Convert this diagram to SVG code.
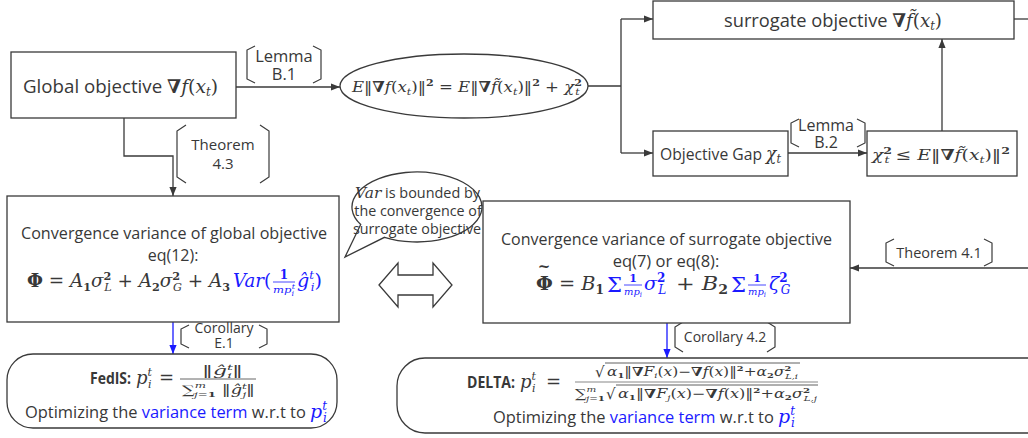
<svg xmlns="http://www.w3.org/2000/svg" width="1028" height="438" viewBox="0 0 1028 438">
<style>
.box{fill:#fff;stroke:#3a3a3a;stroke-width:1.3}
.ln{fill:none;stroke:#3a3a3a;stroke-width:1.3}
.bln{fill:none;stroke:#1a1aff;stroke-width:1.3}
.br{fill:none;stroke:#3a3a3a;stroke-width:1.2}
.t{font-family:"Open Sans","Noto Sans",sans-serif;fill:#383838}
.m{font-family:"DejaVu Serif","Liberation Serif",serif;fill:#383838}
.i{font-style:italic}
.b{font-weight:bold}
.n{font-style:normal}
.bl{fill:#1a1aff}
</style>
<defs>
<marker id="ah" viewBox="0 0 10 10" refX="10" refY="5" markerWidth="9" markerHeight="9" markerUnits="userSpaceOnUse" orient="auto"><path d="M0 1 L10 5 L0 9 Z" fill="#3a3a3a"/></marker>
<marker id="ahb" viewBox="0 0 10 10" refX="10" refY="5" markerWidth="9" markerHeight="9" markerUnits="userSpaceOnUse" orient="auto"><path d="M0 1 L10 5 L0 9 Z" fill="#1a1aff"/></marker>
</defs>
<rect width="1028" height="438" fill="#fff"/>

<g id="connectors">
<path class="ln" d="M236 87 H340" marker-end="url(#ah)"/>
<path class="ln" d="M588 86 H621 M621 19 V153"/>
<path class="ln" d="M621 19 H653" marker-end="url(#ah)"/>
<path class="ln" d="M621 153 H653" marker-end="url(#ah)"/>
<path class="ln" d="M788 153 H867" marker-end="url(#ah)"/>
<path class="ln" d="M942 131 V39" marker-end="url(#ah)"/>
<path class="ln" d="M1014 19 H1028"/>
<path class="ln" d="M124 118 V156 H173 V196" marker-end="url(#ah)"/>
<path class="ln" d="M1028 268 H850" marker-end="url(#ah)"/>
<path class="bln" d="M173 322 V354" marker-end="url(#ahb)"/>
<path class="bln" d="M667 323 V358" marker-end="url(#ahb)"/>
</g>

<g id="labels">
<g id="lemmaB1">
<path class="br" d="M255 46 L247 50 V79 L255 83 M313 46 L321 50 V79 L313 83"/>
<text class="t" x="284" y="62" text-anchor="middle" font-size="16.5">Lemma</text>
<text class="t" x="284" y="80" text-anchor="middle" font-size="16.5">B.1</text>
</g>
<g id="theorem43">
<path class="br" d="M186 125 L177 131 V177 L186 183 M260 125 L269 131 V177 L260 183"/>
<text class="t" x="223" y="150" text-anchor="middle" font-size="15">Theorem</text>
<text class="t" x="223" y="169" text-anchor="middle" font-size="15">4.3</text>
</g>
<g id="lemmaB2">
<path class="br" d="M799 119 L791 123 V143 L799 147 M857 119 L865 123 V143 L857 147"/>
<text class="t" x="826" y="131" text-anchor="middle" font-size="16">Lemma</text>
<text class="t" x="826" y="148" text-anchor="middle" font-size="16">B.2</text>
</g>
<g id="theorem41">
<path class="br" d="M894 239 L886 243 V262 L894 266 M984 239 L992 243 V262 L984 266"/>
<text class="t" x="939" y="258" text-anchor="middle" font-size="14.5">Theorem 4.1</text>
</g>
<g id="corE1">
<path class="br" d="M189 325 L181 329 V344 L189 348 M259 325 L267 329 V344 L259 348"/>
<text class="t" x="224" y="333" text-anchor="middle" font-size="14">Corollary</text>
<text class="t" x="224" y="348" text-anchor="middle" font-size="14">E.1</text>
</g>
<g id="cor42">
<path class="br" d="M683 322 L675 327 V347 L683 352 M767 322 L775 327 V347 L767 352"/>
<text class="t" x="725" y="342" text-anchor="middle" font-size="14">Corollary 4.2</text>
</g>
</g>

<g id="global">
<rect class="box" x="11" y="52" width="225" height="66"/>
<text class="t" x="23" y="93" font-size="19" textLength="195" lengthAdjust="spacingAndGlyphs">Global objective <tspan class="m b" font-size="19">∇</tspan><tspan class="m i" font-size="19">f</tspan><tspan class="m" font-size="19">(</tspan><tspan class="m i" font-size="19">x</tspan><tspan class="m i" font-size="12" dy="3">t</tspan><tspan class="m" font-size="19" dy="-3">)</tspan></text>
</g>

<g id="identity">
<ellipse class="box" cx="464" cy="86" rx="124" ry="32"/>
<text class="m" x="352" y="92" font-size="15" textLength="230" lengthAdjust="spacingAndGlyphs"><tspan class="i">E</tspan>‖<tspan class="b">∇</tspan><tspan class="i">f</tspan>(<tspan class="i">x</tspan><tspan class="i" font-size="10" dy="3">t</tspan><tspan dy="-3">)‖</tspan><tspan class="b" font-size="10" dy="-6">2</tspan><tspan dy="6"> = </tspan><tspan class="i">E</tspan>‖<tspan class="b">∇</tspan><tspan class="i">f̃</tspan>(<tspan class="i">x</tspan><tspan class="i" font-size="10" dy="3">t</tspan><tspan dy="-3">)‖</tspan><tspan class="b" font-size="10" dy="-6">2</tspan><tspan dy="6"> + </tspan><tspan class="i">χ</tspan><tspan class="b" font-size="10" dy="-6">2</tspan><tspan class="i" font-size="10" dx="-6" dy="9">t</tspan></text>
</g>

<g id="surrogate">
<rect class="box" x="653" y="1" width="361" height="38"/>
<text class="t" x="724" y="27" font-size="19" textLength="218" lengthAdjust="spacingAndGlyphs">surrogate objective <tspan class="m b" font-size="19">∇</tspan><tspan class="m i" font-size="19">f̃</tspan><tspan class="m" font-size="19">(</tspan><tspan class="m i" font-size="19">x</tspan><tspan class="m i" font-size="12" dy="3">t</tspan><tspan class="m" font-size="19" dy="-3">)</tspan></text>
</g>

<g id="gap">
<rect class="box" x="653" y="131" width="135" height="45"/>
<text class="t" x="660" y="160" font-size="16.5" textLength="121" lengthAdjust="spacingAndGlyphs">Objective Gap <tspan class="m i" font-size="18">χ</tspan><tspan class="m i" font-size="12" dy="3">t</tspan></text>
</g>

<g id="chibound">
<rect class="box" x="867" y="131" width="150" height="45"/>
<text class="m" x="872" y="160" font-size="15" textLength="138" lengthAdjust="spacingAndGlyphs"><tspan class="i">χ</tspan><tspan class="b" font-size="10" dy="-6">2</tspan><tspan class="i" font-size="10" dx="-6" dy="9">t</tspan><tspan dy="-3"> ≤ </tspan><tspan class="i">E</tspan>‖<tspan class="b">∇</tspan><tspan class="i">f̃</tspan>(<tspan class="i">x</tspan><tspan class="i" font-size="10" dy="3">t</tspan><tspan dy="-3">)‖</tspan><tspan class="b" font-size="10" dy="-6">2</tspan></text>
</g>

<g id="globalvar">
<rect class="box" x="7" y="196" width="332" height="126"/>
<text class="t" x="21" y="239" font-size="16" textLength="306" lengthAdjust="spacingAndGlyphs">Convergence variance of global objective</text>
<text class="t" x="173" y="261" text-anchor="middle" font-size="16">eq(12):</text>
<text class="m" x="27" y="287" font-size="18" textLength="203" lengthAdjust="spacingAndGlyphs"><tspan class="b">Φ</tspan> = <tspan class="i">A</tspan><tspan class="b" font-size="11" dy="4">1</tspan><tspan class="i" dy="-4">σ</tspan><tspan class="b" font-size="11" dy="-7">2</tspan><tspan class="i" font-size="11" dx="-7" dy="11">L</tspan><tspan dy="-4"> + </tspan><tspan class="i">A</tspan><tspan class="b" font-size="11" dy="4">2</tspan><tspan class="i" dy="-4">σ</tspan><tspan class="b" font-size="11" dy="-7">2</tspan><tspan class="i" font-size="11" dx="-7" dy="11">G</tspan><tspan dy="-4"> + </tspan><tspan class="i">A</tspan><tspan class="b" font-size="11" dy="4">3</tspan></text>
<text class="m bl" x="233" y="287" font-size="18" textLength="38" lengthAdjust="spacingAndGlyphs"><tspan class="i">Var</tspan>(</text>
<text class="m bl b" x="284" y="279" text-anchor="middle" font-size="12">1</text>
<line x1="273" y1="282" x2="295" y2="282" stroke="#1a1aff" stroke-width="0.8"/>
<text class="m bl i" x="273" y="293" font-size="10" textLength="22" lengthAdjust="spacingAndGlyphs">mp<tspan font-size="7" dy="3">i</tspan><tspan font-size="7" dx="-2" dy="-7">t</tspan></text>
<text class="m bl" x="297" y="287" font-size="18" textLength="25" lengthAdjust="spacingAndGlyphs"><tspan class="i">ĝ</tspan><tspan class="i" font-size="11" dy="-8">t</tspan><tspan class="i" font-size="11" dx="-3" dy="12">i</tspan><tspan dy="-4">)</tspan></text>
</g>

<g id="bubble">
<path class="box" d="M384.5 237.3 A65 35 0 1 0 360.7 224.5 L345 257 Z"/>
<text class="t" x="355" y="198" font-size="14" textLength="125" lengthAdjust="spacingAndGlyphs"><tspan class="m i" font-size="15">Var</tspan> is bounded by</text>
<text class="t" x="418" y="216" text-anchor="middle" font-size="14.3">the convergence of</text>
<text class="t" x="417" y="234" text-anchor="middle" font-size="14.3">surrogate objective</text>
</g>

<g id="doublearrow">
<polygon class="box" points="379,285 398,263 398,275 433,275 433,263 452,285 433,307 433,295 398,295 398,307"/>
</g>

<g id="surrvar">
<rect class="box" x="483" y="201" width="367" height="122"/>
<text class="t" x="501" y="245" font-size="16.5" textLength="331" lengthAdjust="spacingAndGlyphs">Convergence variance of surrogate objective</text>
<text class="t" x="666" y="267" text-anchor="middle" font-size="16.5">eq(7) or eq(8):</text>
<text class="m b" x="544" y="271" text-anchor="middle" font-size="15">~</text>
<text class="m" x="536" y="290" font-size="19" textLength="68" lengthAdjust="spacingAndGlyphs"><tspan class="b">Φ</tspan> = <tspan class="i">B</tspan><tspan class="b" font-size="12" dy="4">1</tspan></text>
<text class="m bl" x="607" y="292" font-size="21" textLength="15" lengthAdjust="spacingAndGlyphs">Σ</text>
<text class="m bl b" x="633" y="282" text-anchor="middle" font-size="11">1</text>
<line x1="624" y1="285" x2="642" y2="285" stroke="#1a1aff" stroke-width="0.8"/>
<text class="m bl i" x="624" y="295" font-size="10" textLength="18" lengthAdjust="spacingAndGlyphs">mp<tspan font-size="7" dy="2">i</tspan></text>
<text class="m bl i" x="644" y="290" font-size="19">σ<tspan class="b n" font-size="12" dy="-8">2</tspan><tspan font-size="12" dx="-7" dy="12">L</tspan></text>
<text class="m" x="676" y="290" font-size="19" textLength="52" lengthAdjust="spacingAndGlyphs">+ <tspan class="i">B</tspan><tspan class="b" font-size="12" dy="4">2</tspan></text>
<text class="m bl" x="731" y="292" font-size="21" textLength="15" lengthAdjust="spacingAndGlyphs">Σ</text>
<text class="m bl b" x="757" y="282" text-anchor="middle" font-size="11">1</text>
<line x1="748" y1="285" x2="766" y2="285" stroke="#1a1aff" stroke-width="0.8"/>
<text class="m bl i" x="748" y="295" font-size="10" textLength="18" lengthAdjust="spacingAndGlyphs">mp<tspan font-size="7" dy="2">i</tspan></text>
<text class="m bl i" x="769" y="290" font-size="19">ζ<tspan class="b n" font-size="12" dy="-8">2</tspan><tspan font-size="12" dx="-7" dy="12">G</tspan></text>
</g>

<g id="fedis">
<rect class="box" x="7" y="354" width="330" height="74" rx="26"/>
<text class="t b" x="90" y="384" font-size="16" textLength="41" lengthAdjust="spacingAndGlyphs">FedIS:</text>
<text class="m" x="136" y="384" font-size="18"><tspan class="i">p</tspan><tspan class="i" font-size="11" dy="-8">t</tspan><tspan class="i" font-size="11" dx="-4" dy="12">i</tspan></text>
<text class="m" x="159" y="384" font-size="18">=</text>
<text class="m" x="202" y="375" font-size="12" textLength="41" lengthAdjust="spacingAndGlyphs">‖<tspan class="i">ĝ</tspan><tspan class="i" font-size="8" dy="-5">t</tspan><tspan class="i" font-size="8" dx="-3" dy="8">i</tspan><tspan dy="-3">‖</tspan></text>
<line x1="180" y1="379" x2="256" y2="379" stroke="#555" stroke-width="0.9"/>
<text class="m" x="182" y="394" font-size="12" textLength="73" lengthAdjust="spacingAndGlyphs">∑<tspan class="i" font-size="8" dy="-6">m</tspan><tspan class="i" font-size="8" dx="-8" dy="9">j</tspan><tspan font-size="8">=</tspan><tspan class="b" font-size="8">1</tspan><tspan dy="-3"> ‖</tspan><tspan class="i">ĝ</tspan><tspan class="i" font-size="8" dy="-5">t</tspan><tspan class="i" font-size="8" dx="-3" dy="8">j</tspan><tspan dy="-3">‖</tspan></text>
<text class="t" x="25" y="418" font-size="16.5" textLength="302" lengthAdjust="spacingAndGlyphs">Optimizing the <tspan class="bl">variance term</tspan> w.r.t to <tspan class="m i bl" font-size="19">p</tspan><tspan class="m i bl" font-size="12" dy="-8">t</tspan><tspan class="m i bl" font-size="12" dx="-4" dy="12">i</tspan></text>
</g>

<g id="delta">
<rect class="box" x="397" y="358" width="720" height="75" rx="28"/>
<text class="t b" x="467" y="388" font-size="16" textLength="48" lengthAdjust="spacingAndGlyphs">DELTA:</text>
<text class="m" x="520" y="388" font-size="18"><tspan class="i">p</tspan><tspan class="i" font-size="11" dy="-8">t</tspan><tspan class="i" font-size="11" dx="-4" dy="12">i</tspan></text>
<text class="m" x="546" y="388" font-size="18">=</text>
<text class="m" x="595" y="377" font-size="15">√</text>
<line x1="605" y1="363" x2="800" y2="363" stroke="#383838" stroke-width="0.8"/>
<text class="m" x="607" y="376" font-size="12.5" textLength="191" lengthAdjust="spacingAndGlyphs"><tspan class="i">α</tspan><tspan class="b" font-size="8" dy="2">1</tspan><tspan dy="-2">‖</tspan><tspan class="b">∇</tspan><tspan class="i">F</tspan><tspan class="i" font-size="8" dy="2">i</tspan><tspan dy="-2">(</tspan><tspan class="i">x</tspan>)−<tspan class="b">∇</tspan><tspan class="i">f</tspan>(<tspan class="i">x</tspan>)‖<tspan class="b" font-size="8" dy="-5">2</tspan><tspan dy="5">+</tspan><tspan class="i">α</tspan><tspan class="b" font-size="8" dy="2">2</tspan><tspan class="i" dy="-2">σ</tspan><tspan class="b" font-size="8" dy="-5">2</tspan><tspan class="i" font-size="8" dx="-5" dy="8">L,i</tspan></text>
<line x1="575" y1="382" x2="818" y2="382" stroke="#888" stroke-width="1.2"/>
<text class="m" x="575" y="398" font-size="12.5" textLength="30" lengthAdjust="spacingAndGlyphs">∑<tspan class="i" font-size="8" dy="-6">m</tspan><tspan class="i" font-size="8" dx="-8" dy="9">j</tspan><tspan font-size="8">=</tspan><tspan class="b" font-size="8">1</tspan></text>
<text class="m" x="606" y="399" font-size="15">√</text>
<line x1="616" y1="385" x2="818" y2="385" stroke="#383838" stroke-width="0.8"/>
<text class="m" x="618" y="398" font-size="12.5" textLength="199" lengthAdjust="spacingAndGlyphs"><tspan class="i">α</tspan><tspan class="b" font-size="8" dy="2">1</tspan><tspan dy="-2">‖</tspan><tspan class="b">∇</tspan><tspan class="i">F</tspan><tspan class="i" font-size="8" dy="2">j</tspan><tspan dy="-2">(</tspan><tspan class="i">x</tspan>)−<tspan class="b">∇</tspan><tspan class="i">f</tspan>(<tspan class="i">x</tspan>)‖<tspan class="b" font-size="8" dy="-5">2</tspan><tspan dy="5">+</tspan><tspan class="i">α</tspan><tspan class="b" font-size="8" dy="2">2</tspan><tspan class="i" dy="-2">σ</tspan><tspan class="b" font-size="8" dy="-5">2</tspan><tspan class="i" font-size="8" dx="-5" dy="8">L,j</tspan></text>
<text class="t" x="493" y="423" font-size="16.5" textLength="302" lengthAdjust="spacingAndGlyphs">Optimizing the <tspan class="bl">variance term</tspan> w.r.t to <tspan class="m i bl" font-size="19">p</tspan><tspan class="m i bl" font-size="12" dy="-8">t</tspan><tspan class="m i bl" font-size="12" dx="-4" dy="12">i</tspan></text>
</g>
</svg>
